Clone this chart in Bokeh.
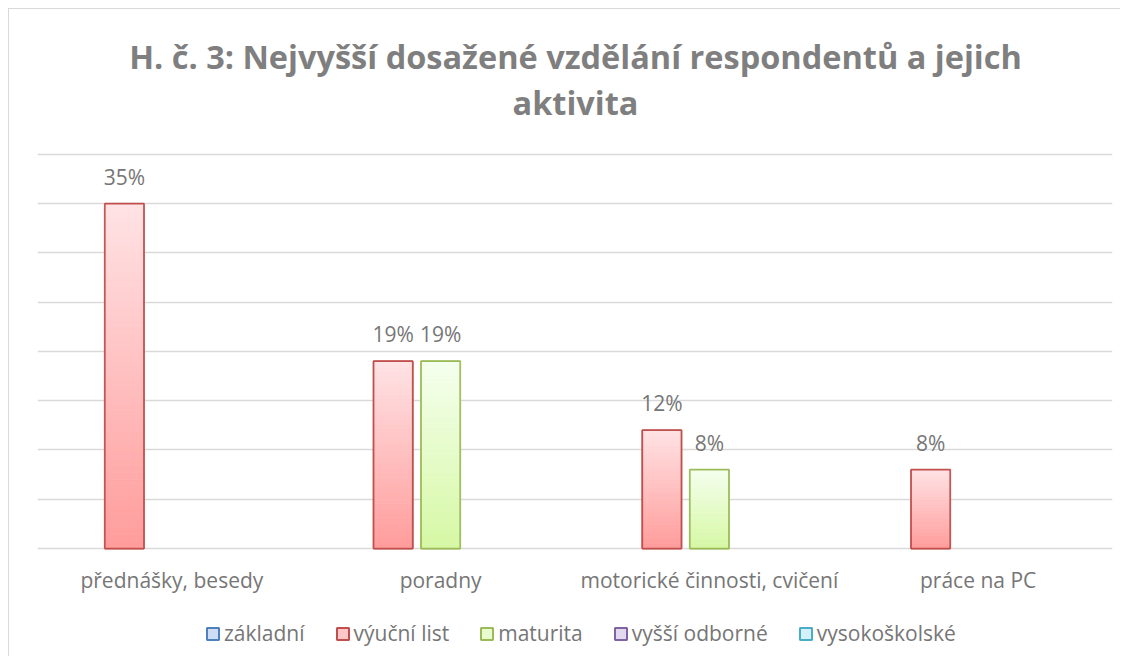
from bokeh.plotting import figure
from bokeh.models import FactorRange, FixedTicker, Legend, LegendItem, Label, ColumnDataSource, Range1d
from bokeh.transform import dodge
from bokeh.core.properties import value
from bokeh.embed import file_html
from bokeh.resources import INLINE

# ---- data ----
categories = ["přednášky, besedy", "poradny", "motorické činnosti, cvičení", "práce na PC"]
series_names = ["základní", "výuční list", "maturita", "vyšší odborné", "vysokoškolské"]
zakladni = [None, None, None, None]
vyucni_list = [35, 19, 12, 8]
maturita = [None, 19, 8, None]
vyssi_odborne = [None, None, None, None]
vysokoskolske = [None, None, None, None]
y_ticks = [0, 5, 10, 15, 20, 25, 30, 35, 40]
title_lines = ["H. č. 3: Nejvyšší dosažené vzdělání respondentů a jejich", "aktivita"]

series_values = [zakladni, vyucni_list, maturita, vyssi_odborne, vysokoskolske]
# border, top colour, bottom colour
styles = [
    ("#4F81BD", "#E4EDF9", "#AFC8EC"),
    ("#C0504D", "#FFE3E5", "#FF9C9B"),
    ("#9BBB59", "#F5FFEE", "#D6F8A4"),
    ("#8064A2", "#F0EBF7", "#CDBFE3"),
    ("#4BACC6", "#E6F8FD", "#B3E6F5"),
]

FONT = "Open Sans"
TXT = "#767676"
FS = "21px"

# frame spans the full canvas height; 0..40 % occupies the middle band
p = figure(
    x_range=FactorRange(*categories, range_padding=0),
    y_range=Range1d(-11.07, 54.72),
    width=1112, height=648,
    output_backend="svg", toolbar_location=None,
    min_border_left=28, min_border_right=9, min_border_top=0, min_border_bottom=0,
)
p.styles = {"margin-left": "8px", "margin-top": "8px",
            "border-left": "1px solid #D9D9D9", "border-top": "1px solid #D9D9D9"}
p.outline_line_color = None
p.yaxis.visible = False
p.xaxis.visible = False
p.ygrid.ticker = FixedTicker(ticks=y_ticks)
p.ygrid.grid_line_color = "#D9D9D9"
p.ygrid.grid_line_width = 1.5
p.xgrid.visible = False

# category labels under the baseline
p.text(x=categories, y=[0] * len(categories), text=categories,
       text_font=value(FONT), text_font_size=value(FS), text_color=TXT,
       text_align="center", text_baseline="middle", y_offset=32)


def hex2rgb(h):
    h = h.lstrip("#")
    return tuple(int(h[i:i + 2], 16) for i in (0, 2, 4))


def mix(c1, c2, t):
    a, b = hex2rgb(c1), hex2rgb(c2)
    return "#%02x%02x%02x" % tuple(int(round(a[i] + (b[i] - a[i]) * t)) for i in range(3))


W = 0.145
STEP = 0.1767
N = 50
items = []
for i, (name, vals) in enumerate(zip(series_names, series_values)):
    border, ctop, cbot = styles[i]
    off = (i - 2) * STEP
    present = [v is not None for v in vals]
    if any(present):
        xs = [c for c, v in zip(categories, vals) if v is not None]
        tops = [v for v in vals if v is not None]
    else:
        xs = list(categories)
        tops = [0 for _ in vals]
    src = ColumnDataSource(dict(x=xs, top=tops, lbl=["%d%%" % v for v in tops]))
    r = p.vbar(x=dodge("x", off, range=p.x_range), top="top", width=W, source=src,
               fill_color=mix(cbot, ctop, 0.6), line_color=border, line_width=2)
    items.append(LegendItem(label=name, renderers=[r]))
    if not any(present):
        r.visible = False
        continue
    sx, sb, st, sc = [], [], [], []
    for x, t in zip(xs, tops):
        for k in range(N):
            sx.append(x)
            sb.append(t * k / N)
            st.append(t * (k + 1) / N)
            sc.append(mix(cbot, ctop, (k + 0.5) / N))
    ssrc = ColumnDataSource(dict(x=sx, b=sb, t=st, c=sc))
    p.vbar(x=dodge("x", off, range=p.x_range), bottom="b", top="t", width=W, source=ssrc,
           fill_color="c", line_color="c", line_width=0.6)
    p.vbar(x=dodge("x", off, range=p.x_range), top="top", width=W, source=src,
           fill_color=None, line_color=border, line_width=1.5)
    p.text(x=dodge("x", off, range=p.x_range), y="top", text="lbl", source=src,
           text_font=value(FONT), text_font_size=value(FS), text_color=TXT,
           text_align="center", text_baseline="bottom", y_offset=-13)

legend = Legend(items=items, orientation="horizontal", location=(168, 10),
                label_text_font=FONT, label_text_font_size=FS, label_text_color=TXT,
                glyph_width=15, glyph_height=15, label_standoff=4, spacing=30,
                border_line_color=None, background_fill_alpha=0, margin=0, padding=0)
p.add_layout(legend, "center")

for txt, yy in zip(title_lines, [601, 555]):
    p.add_layout(Label(x=538, y=yy, x_units="screen", y_units="screen", text=txt,
                       text_align="center", text_baseline="middle", text_font=FONT,
                       text_font_size="32.5px", text_font_style="bold", text_color="#7F7F7F"))

open("out.html", "w").write(file_html(p, INLINE))
